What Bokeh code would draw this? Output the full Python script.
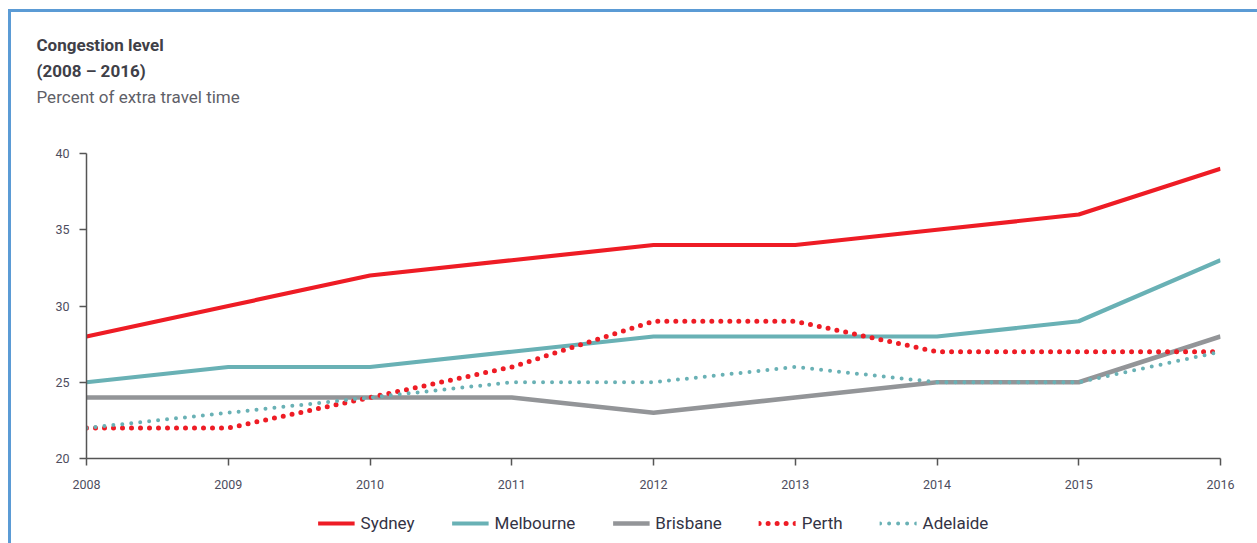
from bokeh.plotting import figure
from bokeh.models import Title, Legend, LegendItem, FixedTicker, Range1d
from bokeh.layouts import column
from bokeh.embed import file_html
from bokeh.resources import INLINE

years = [2008, 2009, 2010, 2011, 2012, 2013, 2014, 2015, 2016]
sydney = [28, 30, 32, 33, 34, 34, 35, 36, 39]
melbourne = [25, 26, 26, 27, 28, 28, 28, 29, 33]
brisbane = [24, 24, 24, 24, 23, 24, 25, 25, 28]
perth = [22, 22, 24, 26, 29, 29, 27, 27, 27]
adelaide = [22, 23, 24, 25, 25, 26, 25, 25, 27]
y_ticks = [20, 25, 30, 35, 40]
series_names = ["Sydney", "Melbourne", "Brisbane", "Perth", "Adelaide"]
series_values = [sydney, melbourne, brisbane, perth, adelaide]

title1 = "Congestion level"
title2 = "(2008 \u2013 2016)"
subtitle = "Percent of extra travel time"

FONT = "Roboto"
RED = "#ee1c25"
TEAL = "#69b1b5"
GRAY = "#939598"
TXT = "#4d4d5e"

styles = [dict(line_color=RED, line_width=4.2),
          dict(line_color=TEAL, line_width=4.2),
          dict(line_color=GRAY, line_width=4.6),
          dict(line_color=RED, line_width=5, line_dash="0 9", line_cap="round"),
          dict(line_color=TEAL, line_width=4, line_dash="0 9", line_cap="round")]

W = 1246
p = figure(width=W, height=491, output_backend="svg", toolbar_location=None,
           x_range=Range1d(2008, 2016), y_range=Range1d(20, 40),
           min_border_left=75, min_border_right=37, min_border_top=141,
           min_border_bottom=45, title=None)
p.outline_line_color = None
p.grid.visible = False

for ax in (p.xaxis, p.yaxis):
    ax.axis_line_color = "#555555"
    ax.axis_line_width = 1.5
    ax.major_tick_line_color = "#555555"
    ax.major_tick_line_width = 1.5
    ax.major_tick_in = 0
    ax.major_tick_out = 7
    ax.minor_tick_line_color = None
    ax.major_label_text_font = FONT
    ax.major_label_text_font_size = "12.5px"
    ax.major_label_text_color = TXT
p.xaxis.ticker = FixedTicker(ticks=years)
p.yaxis.ticker = FixedTicker(ticks=y_ticks)
p.xaxis.major_label_standoff = 14
p.yaxis.major_label_standoff = 10

for vals, st in zip(series_values, styles):
    p.line(years, vals, **st)

# titles stacked above the plot, nearest first (a blank spacer keeps the gap to the plot)
for txt, bold, color, size in [(" ", False, "#ffffff", "33px"),
                               (subtitle, False, "#5f5f68", "17px"),
                               (title2, True, "#3f3f48", "17px"),
                               (title1, True, "#3f3f48", "17px")]:
    p.add_layout(Title(text=txt, text_font=FONT, text_font_size=size,
                       text_font_style="bold" if bold else "normal", text_color=color,
                       align="left", offset=-50, standoff=4), "above")

# legend strip below the chart (its renderers fall outside this strip's ranges)
lf = figure(width=W, height=40, output_backend="svg", toolbar_location=None,
            x_range=Range1d(0, 1), y_range=Range1d(0, 1),
            min_border_left=75, min_border_right=37, min_border_top=0, min_border_bottom=0)
lf.axis.visible = False
lf.grid.visible = False
lf.outline_line_color = None
items = []
for name, vals, st in zip(series_names, series_values, styles):
    r = lf.line(years, vals, **st)
    items.append(LegendItem(label=name, renderers=[r]))
legend = Legend(items=items, orientation="horizontal", location="center",
                glyph_width=37, glyph_height=16, label_standoff=6, spacing=37,
                label_text_font=FONT, label_text_font_size="17px",
                label_text_color="#333344", border_line_color=None,
                background_fill_alpha=0, margin=0, padding=0)
lf.add_layout(legend, "center")

layout = column(p, lf, spacing=0,
                styles={"border-left": "3px solid #5b9bd5", "border-top": "3px solid #5b9bd5",
                        "margin-left": "8px", "margin-top": "9px"})

open("out.html", "w").write(file_html(layout, INLINE))
